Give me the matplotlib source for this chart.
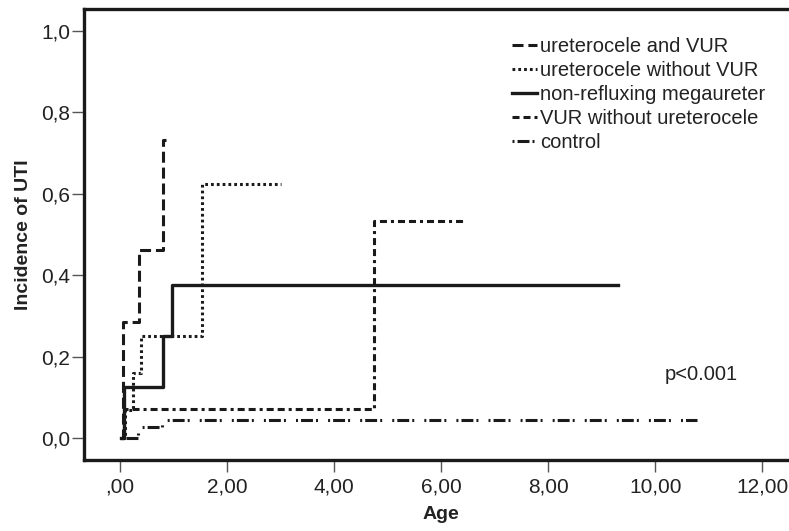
import matplotlib
matplotlib.use("Agg")
import matplotlib.pyplot as plt

plt.rcParams['font.family'] = ['Liberation Sans', 'DejaVu Sans']

# ---- data ----
uvur_x = [0.02, 0.05, 0.36, 0.80, 0.86]
uvur_y = [0.0, 0.285, 0.462, 0.732, 0.732]

unovur_x = [0.03, 0.10, 0.25, 0.39, 1.53, 3.00]
unovur_y = [0.0, 0.07, 0.160, 0.251, 0.625, 0.625]

mega_x = [0.02, 0.08, 0.80, 0.97, 9.30]
mega_y = [0.0, 0.125, 0.25, 0.375, 0.375]

vur_x = [0.02, 0.08, 4.75, 6.42]
vur_y = [0.0, 0.0715, 0.534, 0.534]

ctrl_x = [0.02, 0.34, 0.78, 10.78]
ctrl_y = [0.0, 0.029, 0.045, 0.045]

labels = ["ureterocele and VUR", "ureterocele without VUR",
          "non-refluxing megaureter", "VUR without ureterocele", "control"]

xticks = [0, 2, 4, 6, 8, 10, 12]
xticklabels = [",00", "2,00", "4,00", "6,00", "8,00", "10,00", "12,00"]
yticks = [0.0, 0.2, 0.4, 0.6, 0.8, 1.0]
yticklabels = ["0,0", "0,2", "0,4", "0,6", "0,8", "1,0"]

W, H = 789, 531
fig = plt.figure(figsize=(W / 100, H / 100), dpi=100)
left, right, bottom, top = 84 / W, 798 / W, (H - 460) / H, (H - 9) / H
ax = fig.add_axes([left, bottom, right - left, top - bottom])

c = '#1a1a1a'
lw = 2.2
ax.step(uvur_x, uvur_y, where='post', color=c, lw=lw,
        linestyle=(0, (3.6, 1.6)), label=labels[0])
ax.step(unovur_x, unovur_y, where='post', color=c, lw=lw,
        linestyle=(0, (0.9, 1.0)), label=labels[1])
ax.step(mega_x, mega_y, where='post', color=c, lw=lw + 0.2,
        linestyle='-', label=labels[2])
ax.step(vur_x, vur_y, where='post', color=c, lw=lw,
        linestyle=(0, (2.3, 1.3, 2.3, 1.3, 1.0, 1.3)), label=labels[3])
ax.step(ctrl_x, ctrl_y, where='post', color=c, lw=lw,
        linestyle=(0, (0.65, 1.0, 3.9, 1.0, 0.65, 3.3)), label=labels[4])

ax.set_xlim(-0.673, 12.67)
ax.set_ylim(-0.0527, 1.0527)

ax.set_xticks(xticks)
ax.set_xticklabels(xticklabels)
ax.set_yticks(yticks)
ax.set_yticklabels(yticklabels)
ax.tick_params(axis='both', direction='out', length=8.3, width=1.0,
               color='#555555', labelsize=15, labelcolor='#222222')
ax.tick_params(axis='x', pad=4)
ax.tick_params(axis='y', pad=1.5)

for s in ['left', 'bottom', 'top']:
    ax.spines[s].set_linewidth(2.4)
    ax.spines[s].set_color(c)
ax.spines['right'].set_visible(False)

ax.set_xlabel("Age", fontsize=14, fontweight='bold', labelpad=7, color='#222222')
ax.set_ylabel("Incidence of UTI", fontsize=14, fontweight='bold', labelpad=7,
              color='#222222')

ax.text(10.17, 0.156, "p<0.001", fontsize=14.5, color='#222222',
        ha='left', va='center')

leg = ax.legend(loc='upper left', bbox_to_anchor=(0.599, 0.938), frameon=False,
                fontsize=14.5, handlelength=1.25, handletextpad=0.15,
                labelspacing=0.25, borderaxespad=0, borderpad=0)
for t in leg.get_texts():
    t.set_color('#222222')

fig.savefig("out.png", dpi=100)
